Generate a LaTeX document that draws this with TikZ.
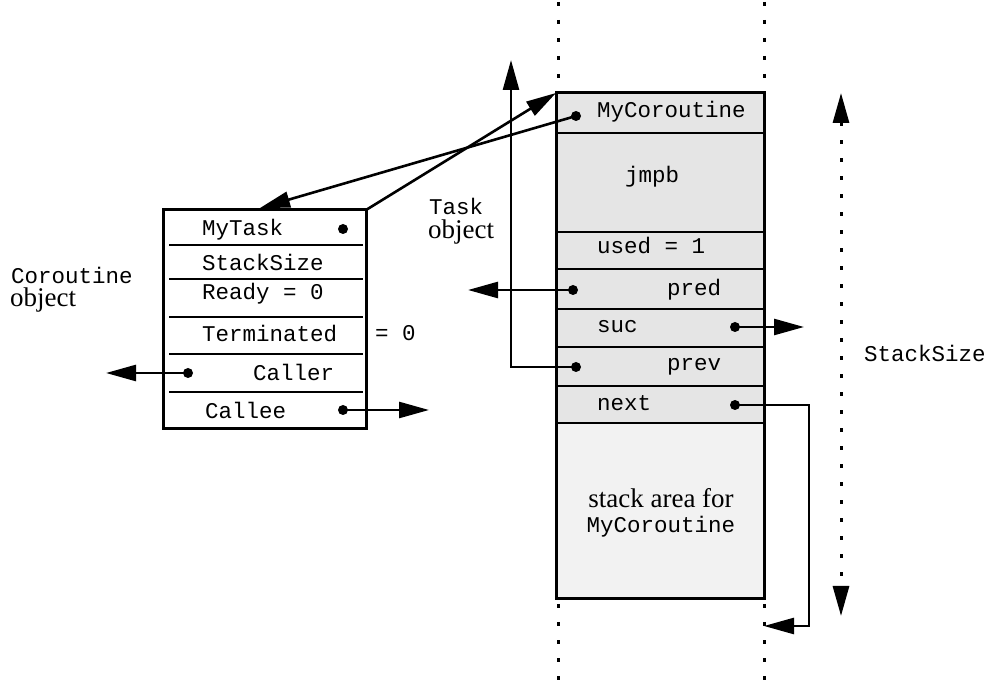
\documentclass[tikz,border=0pt]{standalone}
\usepackage{fontspec}
\setmainfont{Liberation Serif}
\setmonofont{Liberation Mono}
\usetikzlibrary{arrows.meta}

\begin{document}
\begin{tikzpicture}[x=1pt, y=-1pt,
  boxline/.style={line width=3pt},
  sepline/.style={line width=2.8pt},
  link/.style={line width=2.6pt, -{Triangle[length=30pt,width=16pt]}},
  ptr/.style={circle, fill=black, inner sep=0pt, minimum size=10pt},
  code/.style={font=\ttfamily\fontsize{22.5}{24}\selectfont, inner sep=0pt, anchor=west},
  prose/.style={font=\rmfamily\fontsize{27}{29}\selectfont, inner sep=0pt, anchor=west},
  guide/.style={line width=3pt, dash pattern=on 4pt off 14pt},
]
\useasboundingbox (0,0) rectangle (989,692);

% ---------- Coroutine object ----------
\draw[boxline] (163,210) rectangle (366,429);
\foreach \yy in {245,279,317,354,392}
  \draw[sepline] (169,\yy) -- (363,\yy);
\coordinate (coCorner) at (366,210);
\coordinate (coTop) at (260,208);

\node[code] (tMyTask) at (202,230) {MyTask};
\node[code] (tStack) at (202,262) {StackSize};
\node[code] (tReady) at (202,294) {Ready = 0};
\node[code] (tTerm) at (202,333) {Terminated};
\node[code] (tTermVal) at (375,333) {= 0};
\node[code] (tCaller) at (253,372) {Caller};
\node[code] (tCallee) at (205,410) {Callee};

\node[ptr] (dMyTask) at (343,229) {};
\node[ptr] (dCaller) at (188,373) {};
\node[ptr] (dCallee) at (343,410) {};

\node[code] (lblCo) at (11,275) {Coroutine};
\node[prose] (lblCoObj) at (10,300) {object};

% ---------- Task object / stack block ----------
\fill[black!10] (556,93) rectangle (764,423);
\fill[black!5] (556,423) rectangle (764,599);
\draw[boxline] (556,93) rectangle (764,599);
\foreach \yy in {133,232,269,309,347,386,423}
  \draw[sepline] (556,\yy) -- (764,\yy);
\coordinate (tkCorner) at (556,93);

\node[code] (tMyCo) at (597,112) {MyCoroutine};
\node[code] (tJmpb) at (625,177) {jmpb};
\node[code] (tUsed) at (597,245) {used = 1};
\node[code] (tPred) at (667,290) {pred};
\node[code] (tSuc) at (597,327) {suc};
\node[code] (tPrev) at (667,367) {prev};
\node[code] (tNext) at (597,403) {next};
\node[prose, anchor=center] (tArea) at (661,498) {stack area for};
\node[code, anchor=center] (tAreaName) at (661,527) {MyCoroutine};

\node[ptr] (dMyCo) at (576,116) {};
\node[ptr] (dPred) at (573,290) {};
\node[ptr] (dSuc) at (735,327) {};
\node[ptr] (dPrev) at (576,367) {};
\node[ptr] (dNext) at (735,405) {};

\node[code] (lblTask) at (429,206) {Task};
\node[prose] (lblTaskObj) at (428,232) {object};

% ---------- dotted guides around the stack ----------
\coordinate (gL1) at (558,2);  \coordinate (gL2) at (558,90);
\coordinate (gL3) at (558,604); \coordinate (gL4) at (558,692);
\coordinate (gR1) at (764,2);  \coordinate (gR2) at (764,90);
\coordinate (gR3) at (764,604); \coordinate (gR4) at (764,692);
\draw[guide] (gL1) -- (gL2);
\draw[guide] (gL3) -- (gL4);
\draw[guide] (gR1) -- (gR2);
\draw[guide] (gR3) -- (gR4);

% ---------- StackSize extent ----------
\coordinate (ssTop) at (841,93);
\coordinate (ssBot) at (841,616);
\draw[guide, {Triangle[length=30pt,width=16pt]}-{Triangle[length=30pt,width=16pt]}] (ssTop) -- (ssBot);
\node[code] (lblSS) at (864,353) {StackSize};

% ---------- pointers ----------
\draw[link] (coCorner) -- (tkCorner);
\draw[link] (dMyCo.center) -- (coTop);

\coordinate (predEnd) at (468,290);
\draw[link] (dPred.center) -- (predEnd);

\coordinate (sucEnd) at (804,327);
\draw[link] (dSuc.center) -- (sucEnd);

\coordinate (prevBend) at (511,367);
\coordinate (prevEnd) at (511,60);
\draw[link] (dPrev.center) -- (prevBend) -- (prevEnd);

\coordinate (nextA) at (809,405);
\coordinate (nextB) at (809,626);
\coordinate (nextEnd) at (764,626);
\draw[link] (dNext.center) -- (nextA) -- (nextB) -- (nextEnd);

\coordinate (callerEnd) at (106,373);
\draw[link] (dCaller.center) -- (callerEnd);

\coordinate (calleeEnd) at (429,410);
\draw[link] (dCallee.center) -- (calleeEnd);
\end{tikzpicture}
\end{document}
